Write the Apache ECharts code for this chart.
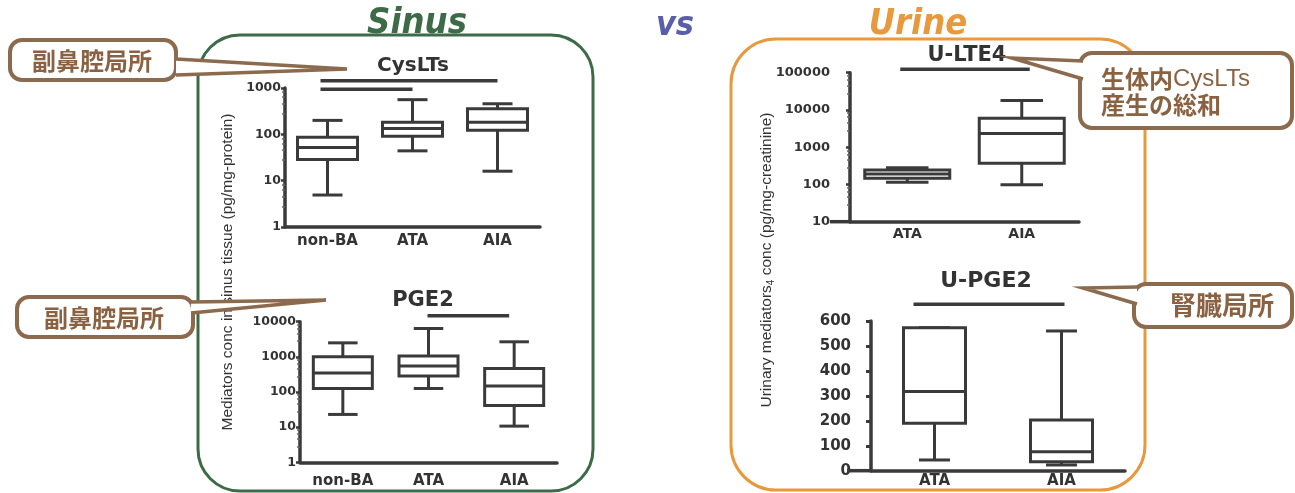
<!DOCTYPE html>
<html>
<head>
<meta charset="utf-8">
<script src="https://cdn.jsdelivr.net/npm/echarts@6/dist/echarts.min.js"></script>
<style>
  html, body { margin: 0; padding: 0; background: #ffffff; }
  #c { width: 1295px; height: 493px; }
</style>
</head>
<body>
<div id="c"></div>
<script>
// ---- data -------------------------------------------------------------
const sinusGroups = ['non-BA', 'ATA', 'AIA'];
const urineGroups = ['ATA', 'AIA'];

// box rows: [min, Q1, median, Q3, max]
const cysLTs = [[4.9, 28.5, 52, 87, 200], [44, 91, 133, 183, 560], [16, 122, 183, 357, 457]];
const pge2   = [[23, 126, 350, 1000, 2500], [126, 283, 545, 1050, 6400], [10.7, 41, 147, 470, 2680]];
const uLTE4  = [[115, 147, 191, 245, 280], [98, 370, 2350, 6000, 17800]];
const uPGE2  = [[43, 190, 317, 573, 573], [23, 36, 76, 203, 560]];

// significance bars: [from group, to group, height on value axis]
const cysSig  = [[0, 2, 1437], [0, 1, 938]];
const pgeSig  = [[1, 2, 14830]];
const lteSig  = [[0, 1, 123000]];
const upgeSig = [[0, 1, 667]];

const panelTitles = ['CysLTs', 'PGE2', 'U-LTE4', 'U-PGE2'];

// ---- styling ----------------------------------------------------------
const INK = '#3a3a3a';
const LABEL = '#333333';
const BROWN = '#8c6a4e';
const BROWN_TEXT = '#8a6242';
const GREEN = '#3d6b47';
const ORANGE = '#e8993e';
const NUM_FONT = 'DejaVu Sans';
const HEAD_FONT = '"DejaVu Sans Condensed", "DejaVu Sans"';

const grids = [
  { left: 285, top: 88,    width: 255, height: 139 },
  { left: 300, top: 321.7, width: 257, height: 140.6 },
  { left: 850, top: 72.7,  width: 229, height: 149 },
  { left: 871, top: 321,   width: 254, height: 149.7 }
];

function catAxis(idx, data, fontSize, margin) {
  return {
    type: 'category', gridIndex: idx, data: data, boundaryGap: true,
    axisLine: { lineStyle: { color: INK, width: 3.5 } },
    axisTick: { alignWithLabel: true, length: 5, lineStyle: { color: INK, width: 2.5 } },
    axisLabel: { color: LABEL, fontFamily: NUM_FONT, fontWeight: 'bold', fontSize: fontSize, margin: margin },
    splitLine: { show: false }
  };
}

function logAxis(idx, min, max, fontSize, margin) {
  return {
    type: 'log', logBase: 10, gridIndex: idx, min: min, max: max,
    axisLine: { show: true, lineStyle: { color: INK, width: 3.5 } },
    axisTick: { show: true, length: 4, lineStyle: { color: INK, width: 2.5 } },
    minorTick: { show: true, splitNumber: 5, length: 3, lineStyle: { color: '#666', width: 1.5 } },
    axisLabel: { color: LABEL, fontFamily: NUM_FONT, fontWeight: 'bold', fontSize: fontSize, margin: margin,
                 formatter: v => String(Math.round(v)) },
    splitLine: { show: false }, minorSplitLine: { show: false }
  };
}

function boxSeries(idx, rows, boxW) {
  return {
    type: 'custom', xAxisIndex: idx, yAxisIndex: idx, clip: false, silent: true, z: 3,
    data: rows.map((r, i) => [i].concat(r)),
    encode: { x: 0, y: [1, 2, 3, 4, 5] },
    renderItem(params, api) {
      const i = api.value(0);
      const p = [1, 2, 3, 4, 5].map(k => api.coord([i, api.value(k)]));
      const cx = p[0][0];
      const h = boxW / 2, c = boxW / 4;
      const ln = { stroke: INK, lineWidth: 3, fill: null };
      return {
        type: 'group',
        children: [
          { type: 'line', shape: { x1: cx, y1: p[4][1], x2: cx, y2: p[3][1] }, style: ln },
          { type: 'line', shape: { x1: cx, y1: p[1][1], x2: cx, y2: p[0][1] }, style: ln },
          { type: 'line', shape: { x1: cx - c, y1: p[4][1], x2: cx + c, y2: p[4][1] }, style: ln },
          { type: 'line', shape: { x1: cx - c, y1: p[0][1], x2: cx + c, y2: p[0][1] }, style: ln },
          { type: 'rect', shape: { x: cx - h, y: p[3][1], width: boxW, height: p[1][1] - p[3][1] },
            style: { stroke: INK, lineWidth: 3, fill: '#ffffff' } },
          { type: 'line', shape: { x1: cx - h, y1: p[2][1], x2: cx + h, y2: p[2][1] }, style: ln }
        ]
      };
    }
  };
}

function sigSeries(idx, bars, padL, padR) {
  return {
    type: 'custom', xAxisIndex: idx, yAxisIndex: idx, clip: false, silent: true, z: 3,
    data: bars,
    encode: { x: [0, 1], y: 2 },
    renderItem(params, api) {
      const a = api.coord([api.value(0), api.value(2)]);
      const b = api.coord([api.value(1), api.value(2)]);
      return {
        type: 'line',
        shape: { x1: a[0] - padL, y1: a[1], x2: b[0] + padR, y2: b[1] },
        style: { stroke: INK, lineWidth: 3.5 }
      };
    }
  };
}

// chart titles centred over each plot
const titleSpots = [[413, 68, 20], [423, 303, 21], [967, 58, 21], [986, 283, 22]];
const titles = panelTitles.map((t, i) => ({
  text: t, left: titleSpots[i][0], top: titleSpots[i][1] - titleSpots[i][2] * 0.6,
  textAlign: 'center', padding: 0,
  textStyle: { fontFamily: NUM_FONT, fontWeight: 'bold', fontSize: titleSpots[i][2], color: LABEL }
}));

// rounded speech bubble with a pointed tail
function bubble(box, tail, content) {
  return [
    { type: 'rect', z: 20, shape: { x: box[0], y: box[1], width: box[2], height: box[3], r: 12 },
      style: { fill: '#ffffff', stroke: BROWN, lineWidth: 4 } },
    { type: 'polygon', z: 21, shape: { points: tail },
      style: { fill: '#ffffff', stroke: null } },
    { type: 'polyline', z: 22, shape: { points: tail },
      style: { fill: null, stroke: BROWN, lineWidth: 3.5 } },
    Object.assign({ type: 'text', z: 23 }, content)
  ];
}

const cjk = '"Noto Sans CJK JP", sans-serif';
const centred = { align: 'center', verticalAlign: 'middle', textAlign: 'center', textVerticalAlign: 'middle' };
const bottomCentred = { align: 'center', verticalAlign: 'bottom', textAlign: 'center', textVerticalAlign: 'bottom' };

const graphics = [
  // panels
  { type: 'rect', z: 0, shape: { x: 198, y: 35, width: 395, height: 456, r: 42 },
    style: { fill: 'none', stroke: GREEN, lineWidth: 3 } },
  { type: 'rect', z: 0, shape: { x: 731, y: 39, width: 414, height: 451, r: 45 },
    style: { fill: 'none', stroke: ORANGE, lineWidth: 3 } },
  // headings
  { type: 'text', z: 5, x: 417, y: 42,
    style: Object.assign({ text: 'Sinus', fill: GREEN, font: 'italic bold 36px ' + HEAD_FONT }, bottomCentred) },
  { type: 'text', z: 5, x: 675, y: 43,
    style: Object.assign({ text: 'vs', fill: '#5a5ea8', font: 'italic bold 34px ' + HEAD_FONT }, bottomCentred) },
  { type: 'text', z: 5, x: 918, y: 43,
    style: Object.assign({ text: 'Urine', fill: ORANGE, font: 'italic bold 36px ' + HEAD_FONT }, bottomCentred) },
  // axis names
  { type: 'text', z: 5, x: 228, y: 272, rotation: Math.PI / 2,
    style: Object.assign({ text: 'Mediators conc in sinus tissue (pg/mg-protein)', fill: LABEL,
             font: '15.5px "Liberation Sans"' }, centred) },
  { type: 'text', z: 5, x: 767, y: 260, rotation: Math.PI / 2,
    style: Object.assign({ text: '{a|Urinary mediators}{s|4}{a| conc (pg/mg-creatinine)}', fill: LABEL,
             font: '15.5px "Liberation Sans"',
             rich: { a: { fontFamily: 'Liberation Sans', fontSize: 15.5, fill: LABEL, color: LABEL },
                     s: { fontFamily: 'Liberation Sans', fontSize: 10, fill: LABEL, color: LABEL,
                          verticalAlign: 'bottom', padding: [9, 0, 0, 0] } } }, centred) },
  // x-axis stubs left of the urine y-axes
  { type: 'line', z: 4, shape: { x1: 830, y1: grids[2].top + grids[2].height, x2: grids[2].left, y2: grids[2].top + grids[2].height },
    style: { stroke: INK, lineWidth: 3.5 } },
  { type: 'line', z: 4, shape: { x1: 847, y1: grids[3].top + grids[3].height, x2: grids[3].left, y2: grids[3].top + grids[3].height },
    style: { stroke: INK, lineWidth: 3.5 } }
].concat(
  bubble([10, 40, 166, 40], [[176, 59], [347, 69], [176, 75]],
    { x: 92, y: 61, style: Object.assign({ text: '副鼻腔局所', fill: BROWN_TEXT, font: 'bold 24px ' + cjk }, centred) }),
  bubble([17, 297, 176, 40], [[191, 302], [326, 300], [191, 313]],
    { x: 104, y: 318, style: Object.assign({ text: '副鼻腔局所', fill: BROWN_TEXT, font: 'bold 24px ' + cjk }, centred) }),
  bubble([1080, 53, 212, 75], [[1083, 61], [1012, 58], [1083, 79]],
    { x: 1101, y: 92, style: { text: '{b|生体内}{n|CysLTs}\n{b|産生の総和}',
      align: 'left', verticalAlign: 'middle', textAlign: 'left', textVerticalAlign: 'middle',
      rich: { b: { fontFamily: 'Noto Sans CJK JP', fontWeight: 'bold', fontSize: 24, lineHeight: 26, fill: BROWN_TEXT, color: BROWN_TEXT },
              n: { fontFamily: 'Liberation Sans', fontSize: 24, lineHeight: 26, fill: BROWN_TEXT, color: BROWN_TEXT } } } }),
  bubble([1134, 284, 158, 43], [[1137, 287], [1083, 288], [1137, 304]],
    { x: 1222, y: 305, style: Object.assign({ text: '腎臓局所', fill: BROWN_TEXT, font: 'bold 26px ' + cjk }, centred) })
);

const option = {
  animation: false,
  backgroundColor: '#ffffff',
  title: titles,
  grid: grids.map(g => Object.assign({ containLabel: false }, g)),
  xAxis: [
    catAxis(0, sinusGroups, 15, 7),
    catAxis(1, sinusGroups, 15, 11),
    catAxis(2, urineGroups, 14, 6),
    catAxis(3, urineGroups, 15, 3)
  ],
  yAxis: [
    logAxis(0, 1, 1000, 12.5, 4),
    logAxis(1, 1, 10000, 12.5, 4),
    logAxis(2, 10, 100000, 13, 20),
    {
      type: 'value', gridIndex: 3, min: 0, max: 600, interval: 100,
      axisLine: { show: true, lineStyle: { color: INK, width: 3.5 } },
      axisTick: { show: true, length: 5, lineStyle: { color: INK, width: 3 } },
      axisLabel: { color: LABEL, fontFamily: NUM_FONT, fontWeight: 'bold', fontSize: 15, margin: 20 },
      splitLine: { show: false }
    }
  ],
  series: [
    boxSeries(0, cysLTs, 60),
    boxSeries(1, pge2, 59),
    boxSeries(2, uLTE4, 85),
    boxSeries(3, uPGE2, 62),
    sigSeries(0, cysSig, 7, 0),
    sigSeries(1, pgeSig, 1, -5),
    sigSeries(2, lteSig, 7, 8),
    sigSeries(3, upgeSig, 21, 3)
  ],
  graphic: graphics
};

const chart = echarts.init(document.getElementById('c'));
chart.setOption(option);
</script>
</body>
</html>
